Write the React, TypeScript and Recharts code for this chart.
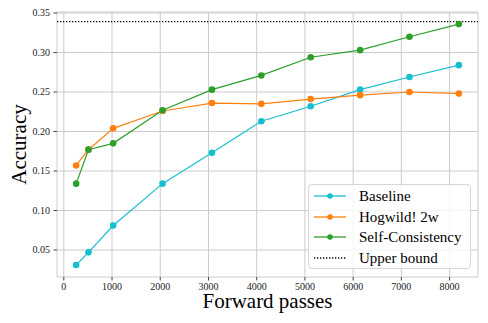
import React from 'react'
import {
  LineChart,
  Line,
  XAxis,
  YAxis,
  CartesianGrid,
  ReferenceLine,
  Legend,
  Label,
} from 'recharts'

// forward passes (x) and accuracy per method
const passes = [256, 512, 1024, 2048, 3072, 4096, 5120, 6144, 7168, 8192]
const baseline = [0.031, 0.047, 0.081, 0.134, 0.173, 0.213, 0.232, 0.253, 0.269, 0.284]
const hogwild = [0.157, 0.177, 0.204, 0.226, 0.236, 0.235, 0.241, 0.246, 0.250, 0.248]
const selfConsistency = [0.134, 0.177, 0.185, 0.227, 0.253, 0.271, 0.294, 0.303, 0.320, 0.336]
const upperBound = 0.339

const xTicks = [0, 1000, 2000, 3000, 4000, 5000, 6000, 7000, 8000]
const yTicks = [0.05, 0.1, 0.15, 0.2, 0.25, 0.3, 0.35]

const data = passes.map((x, i) => ({
  x,
  baseline: baseline[i],
  hogwild: hogwild[i],
  sc: selfConsistency[i],
}))

const FONT = '"Liberation Serif", "Times New Roman", serif'

const series = [
  { key: 'baseline', name: 'Baseline', color: '#17becf' },
  { key: 'hogwild', name: 'Hogwild! 2w', color: '#ff7f0e' },
  { key: 'sc', name: 'Self-Consistency', color: '#2ca02c' },
]

// tick label drawn as plain svg text so the serif font sticks
const Tick = (props: any) => {
  const { x, y, payload, textAnchor, formatter, dy } = props
  return (
    <text
      x={x}
      y={y}
      dy={dy}
      textAnchor={textAnchor}
      style={{ fontFamily: FONT, fontSize: 10, fill: '#222' }}
    >
      {formatter ? formatter(payload.value) : payload.value}
    </text>
  )
}

const LegendBox = () => {
  const rows = [
    ...series.map((s) => ({ name: s.name, color: s.color, dotted: false })),
    { name: 'Upper bound', color: '#000', dotted: true },
  ]
  return (
    <div
      style={{
        boxSizing: 'border-box',
        width: 163,
        height: 85,
        padding: '1px 0 0 5px',
        border: '1px solid #d6d6d6',
        borderRadius: 4,
        background: 'rgba(255,255,255,0.8)',
        fontFamily: FONT,
        fontSize: 15,
        color: '#000',
      }}
    >
      {rows.map((r) => (
        <div key={r.name} style={{ display: 'flex', alignItems: 'center', height: 20.5, lineHeight: '20.5px' }}>
          <svg width={32} height={10} style={{ marginRight: 13 }}>
            {r.dotted ? (
              <line x1={0} y1={5} x2={32} y2={5} stroke="#000" strokeWidth={1.3} strokeDasharray="1.3 1.7" />
            ) : (
              <>
                <line x1={0} y1={5} x2={32} y2={5} stroke={r.color} strokeWidth={1.3} />
                <circle cx={16} cy={5} r={2.8} fill={r.color} />
              </>
            )}
          </svg>
          <span style={{ whiteSpace: 'nowrap' }}>{r.name}</span>
        </div>
      ))}
    </div>
  )
}

const YTitle = (props: any) => {
  const { viewBox } = props
  const cx = viewBox.x + 19
  const cy = viewBox.y + viewBox.height / 2
  return (
    <text
      x={cx}
      y={cy}
      transform={`rotate(-90, ${cx}, ${cy})`}
      textAnchor="middle"
      dominantBaseline="central"
      style={{ fontFamily: FONT, fontSize: 21, fill: '#000' }}
    >
      Accuracy
    </text>
  )
}

const XTitle = (props: any) => {
  const { viewBox } = props
  const cx = viewBox.x + viewBox.width / 2
  const by = viewBox.y + 31
  return (
    <text x={cx} y={by} textAnchor="middle" style={{ fontFamily: FONT, fontSize: 21, fill: '#000' }}>
      Forward passes
    </text>
  )
}

export default function App() {
  return (
    <div style={{ position: 'absolute', left: 0, top: 0, width: 488, height: 323, background: '#fff', fontFamily: FONT }}>
      <LineChart width={488} height={323} data={data} margin={{ top: 12, right: 10, left: 0, bottom: 0 }}>
        <CartesianGrid stroke="#cccccc" strokeWidth={1} />
        <XAxis
          dataKey="x"
          type="number"
          domain={[-141, 8589]}
          ticks={xTicks}
          allowDataOverflow
          axisLine={false}
          tickSize={3.5}
          tickMargin={2.5}
          tickLine={{ stroke: '#444' }}
          tick={<Tick dy={7.2} />}
          height={46}
        >
          <Label content={<XTitle />} />
        </XAxis>
        <YAxis
          type="number"
          domain={[0.0158, 0.3513]}
          ticks={yTicks}
          allowDataOverflow
          axisLine={false}
          tickSize={3.5}
          tickMargin={3.5}
          tickLine={{ stroke: '#444' }}
          tick={<Tick dy={3.4} formatter={(v: number) => v.toFixed(2)} />}
          width={57}
        >
          <Label content={<YTitle />} />
        </YAxis>
        <ReferenceLine y={upperBound} stroke="#000" strokeWidth={1.3} strokeDasharray="1.3 1.7" />
        {series.map((s) => (
          <Line
            key={s.key}
            type="linear"
            dataKey={s.key}
            name={s.name}
            stroke={s.color}
            strokeWidth={1.2}
            dot={{ r: 3.3, fill: s.color, stroke: s.color, strokeWidth: 0 }}
            activeDot={false}
            isAnimationActive={false}
          />
        ))}
        <Legend
          layout="vertical"
          align="center"
          verticalAlign="middle"
          content={<LegendBox />}
          wrapperStyle={{ left: 308, top: 184, width: 163, height: 85 }}
        />
      </LineChart>
    </div>
  )
}
